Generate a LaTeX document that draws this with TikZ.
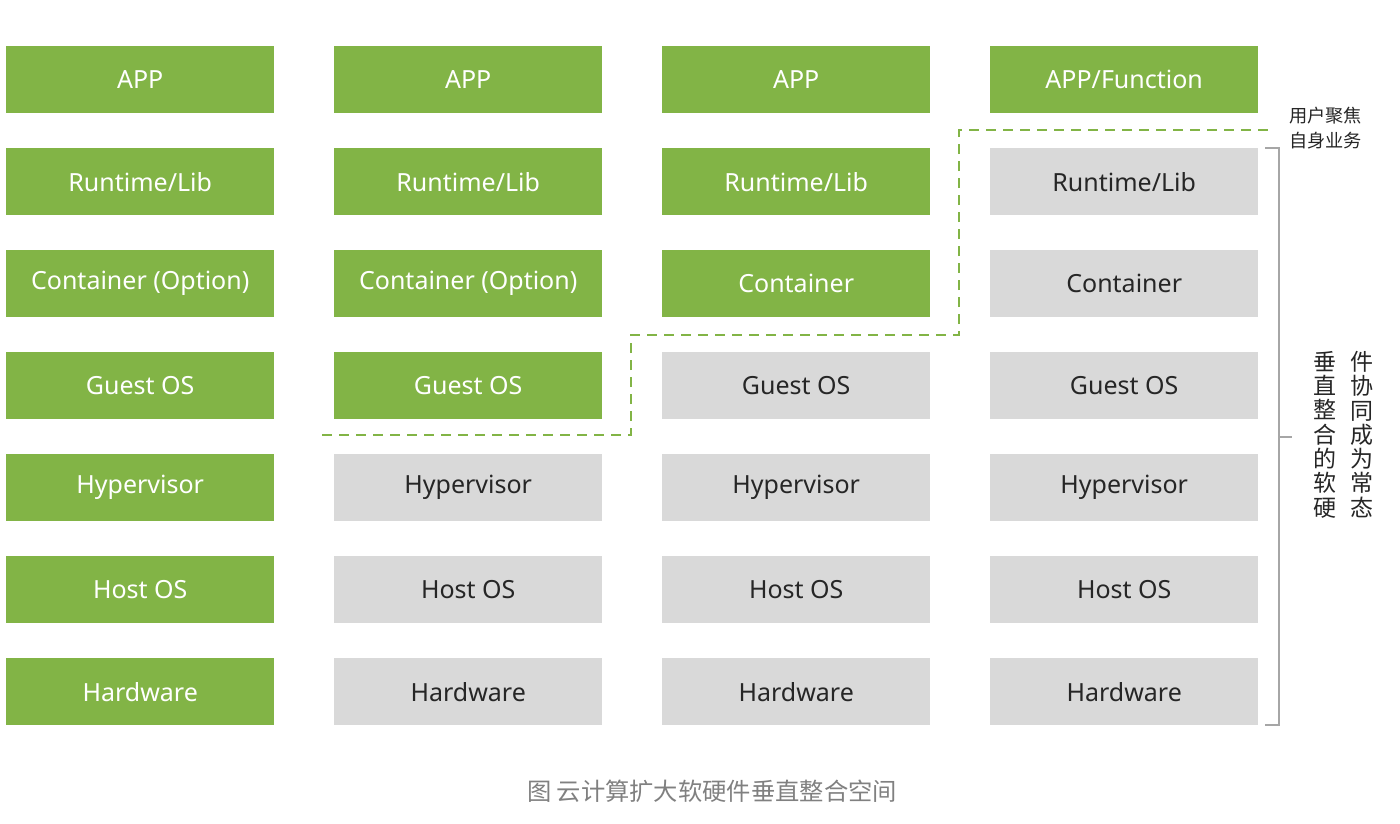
\documentclass[tikz,border=0pt]{standalone}
\usepackage{fontspec}
\setmainfont{Noto Sans}
\newfontfamily\cjk{Noto Sans CJK SC}
\definecolor{grn}{HTML}{82B446}
\definecolor{gry}{HTML}{D9D9D9}
\definecolor{capgray}{HTML}{808080}
\definecolor{brk}{HTML}{A6A6A6}
\begin{document}
\begin{tikzpicture}[x=1pt,y=-1pt,
  box/.style={minimum width=268pt,minimum height=67pt,inner sep=0pt,font=\fontsize{25}{29}\selectfont,anchor=north west},
  gbox/.style={box,fill=grn,text=white},
  hbox/.style={box,fill=gry,text=black!85},
  dash line/.style={draw=grn,line width=1.5pt,dash pattern=on 10pt off 7pt},
  bracket/.style={draw=brk,line width=1.2pt},
  vtext/.style={font=\cjk\fontsize{23}{24.3}\selectfont,align=center,inner sep=0pt,text=black!85}]
\useasboundingbox (0,0) rectangle (1400,823);
% column 1
\node[gbox] (a1) at (6,46) {APP};
\node[gbox] (a2) at (6,148) {Runtime/Lib};
\node[gbox] (a3) at (6,250) {Container (Option)};
\node[gbox] (a4) at (6,352) {Guest OS};
\node[gbox] (a5) at (6,454) {Hypervisor};
\node[gbox] (a6) at (6,556) {Host OS};
\node[gbox] (a7) at (6,658) {Hardware};
% column 2
\node[gbox] (b1) at (334,46) {APP};
\node[gbox] (b2) at (334,148) {Runtime/Lib};
\node[gbox] (b3) at (334,250) {Container (Option)};
\node[gbox] (b4) at (334,352) {Guest OS};
\node[hbox] (b5) at (334,454) {Hypervisor};
\node[hbox] (b6) at (334,556) {Host OS};
\node[hbox] (b7) at (334,658) {Hardware};
% column 3
\node[gbox] (c1) at (662,46) {APP};
\node[gbox] (c2) at (662,148) {Runtime/Lib};
\node[gbox] (c3) at (662,250) {Container};
\node[hbox] (c4) at (662,352) {Guest OS};
\node[hbox] (c5) at (662,454) {Hypervisor};
\node[hbox] (c6) at (662,556) {Host OS};
\node[hbox] (c7) at (662,658) {Hardware};
% column 4
\node[gbox] (d1) at (990,46) {APP/Function};
\node[hbox] (d2) at (990,148) {Runtime/Lib};
\node[hbox] (d3) at (990,250) {Container};
\node[hbox] (d4) at (990,352) {Guest OS};
\node[hbox] (d5) at (990,454) {Hypervisor};
\node[hbox] (d6) at (990,556) {Host OS};
\node[hbox] (d7) at (990,658) {Hardware};
% dashed boundary
\coordinate (p0) at (322,435);
\coordinate (p1) at (631,435);
\coordinate (p2) at (631,335);
\coordinate (p3) at (959,335);
\coordinate (p4) at (959,130);
\coordinate (p5) at (1275,130);
\draw[dash line] (p0) -- (p1) -- (p2) -- (p3) -- (p4) -- (p5);
% label
\node[font=\cjk\fontsize{18.2}{25}\selectfont,align=left,anchor=north west,inner sep=0pt,text=black!85] (lbl) at (1289,107) {用户聚焦\\自身业务};
% bracket
\coordinate (bt) at (1265,148);
\coordinate (btr) at (1279,148);
\coordinate (bbr) at (1279,725);
\coordinate (bb) at (1265,725);
\coordinate (bm) at (1279,437);
\coordinate (bmt) at (1292,437);
\draw[bracket] (bt) -- (btr) -- (bbr) -- (bb);
\draw[bracket] (bm) -- (bmt);
% vertical text
\node[vtext,anchor=north] (v1) at (1325,351) {垂\\直\\整\\合\\的\\软\\硬};
\node[vtext,anchor=north] (v2) at (1362,351) {件\\协\\同\\成\\为\\常\\态};
% caption
\node[font=\cjk\fontsize{24.3}{28}\selectfont,text=capgray,inner sep=0pt] (cap) at (712,791) {图 云计算扩大软硬件垂直整合空间};
\end{tikzpicture}
\end{document}
